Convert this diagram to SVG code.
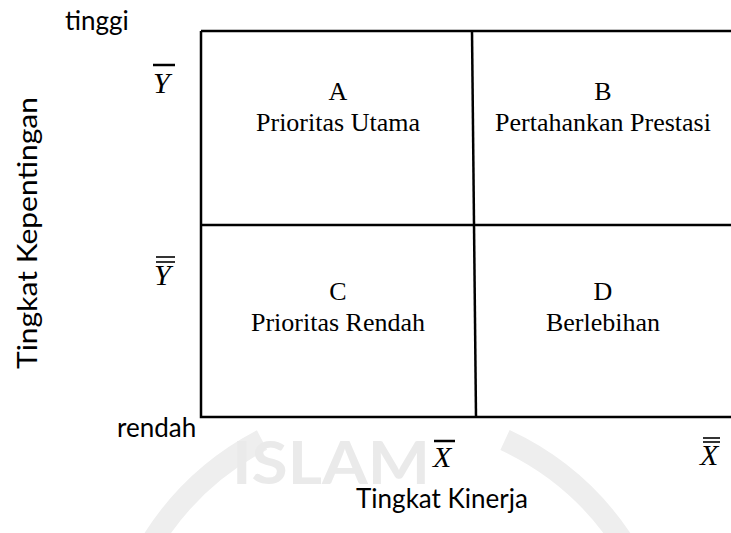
<svg xmlns="http://www.w3.org/2000/svg" width="731" height="533" viewBox="0 0 731 533">
<style>
.ax{font-family:Lato,"Open Sans","Liberation Sans",sans-serif;font-size:26px;fill:#000}
.q{font-family:"Liberation Serif",serif;font-size:26px;fill:#000;text-anchor:middle}
.m{font-family:"Liberation Serif",serif;font-style:italic;font-size:30px;fill:#000}
.ln{stroke:#000;stroke-width:2.5;fill:none}
.bar{stroke:#000;stroke-width:2.5}
.bar2{stroke:#000;stroke-width:1.6}
.wm{fill:none;stroke:#eeeeee;stroke-width:22}
</style>
<rect width="731" height="533" fill="#fff"/>
<g id="watermark">
<path class="wm" d="M150 545 A285 285 0 0 1 262 440"/>
<path class="wm" d="M505 440 A285 285 0 0 1 625 545"/>
<text x="232" y="484" font-family="Lato,'Liberation Sans',sans-serif" font-size="60" font-weight="bold" fill="#eaeaea" textLength="198" lengthAdjust="spacingAndGlyphs">ISLAM</text>
</g>
<g id="grid" class="connectors">
<path class="ln" d="M201 31 H731 M201 31 V417 H731 M201 225 H731"/>
<path class="ln" d="M472 31 L476 417"/>
</g>
<g id="axis-y">
<text class="ax" x="65" y="30">tinggi</text>
<text class="ax" x="117" y="437">rendah</text>
<text class="ax" transform="translate(37 233) rotate(-90)" text-anchor="middle" font-size="29" textLength="272" lengthAdjust="spacingAndGlyphs">Tingkat Kepentingan</text>
<line class="bar" x1="153" y1="65" x2="175" y2="65"/>
<text class="m" x="153" y="93">Y</text>
<line class="bar2" x1="156" y1="257" x2="175" y2="257"/>
<line class="bar2" x1="156" y1="262" x2="175" y2="262"/>
<text class="m" x="154" y="285">Y</text>
</g>
<g id="axis-x">
<line class="bar" x1="434" y1="441" x2="455" y2="441"/>
<text class="m" x="433" y="467">X</text>
<line class="bar2" x1="703" y1="438" x2="720" y2="438"/>
<line class="bar2" x1="703" y1="442" x2="720" y2="442"/>
<text class="m" x="700" y="465">X</text>
<text class="ax" x="442" y="508" text-anchor="middle">Tingkat Kinerja</text>
</g>
<g id="node-a">
<text class="q" x="338" y="100">A</text>
<text class="q" x="338" y="131">Prioritas Utama</text>
</g>
<g id="node-b">
<text class="q" x="603" y="100">B</text>
<text class="q" x="603" y="131">Pertahankan Prestasi</text>
</g>
<g id="node-c">
<text class="q" x="338" y="300">C</text>
<text class="q" x="338" y="331">Prioritas Rendah</text>
</g>
<g id="node-d">
<text class="q" x="603" y="300">D</text>
<text class="q" x="603" y="331">Berlebihan</text>
</g>
</svg>
